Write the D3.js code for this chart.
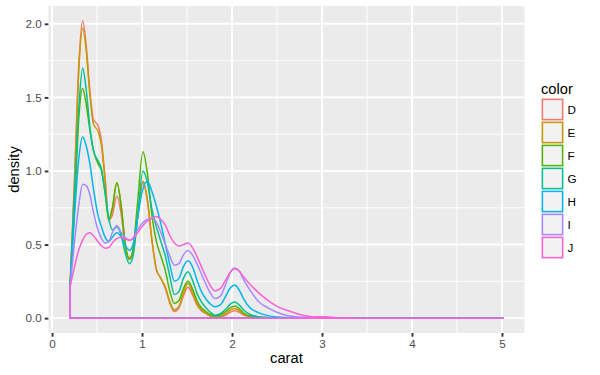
<!DOCTYPE html>
<html>
<head>
<meta charset="utf-8">
<script src="https://cdn.jsdelivr.net/npm/d3@7"></script>
<style>
  body { margin: 0; background: #fff; }
  text { font-family: "Liberation Sans", Arial, Helvetica, sans-serif; }
</style>
</head>
<body>
<svg id="chart" width="600" height="375"></svg>
<script>
const carat = [0.2, 0.25, 0.3, 0.34, 0.38, 0.42, 0.46, 0.51, 0.55, 0.59,
  0.63, 0.67, 0.72, 0.77, 0.81, 0.86, 0.9, 0.95, 1.01, 1.06,
  1.11, 1.16, 1.21, 1.26, 1.31, 1.36, 1.41, 1.46, 1.51, 1.56,
  1.61, 1.66, 1.71, 1.76, 1.81, 1.87, 1.93, 1.98, 2.03, 2.08,
  2.13, 2.2, 2.3, 2.4, 2.5, 2.6, 2.7, 2.8, 2.9, 3.0,
  3.1, 3.2, 3.4, 3.7, 4.0, 4.5, 5.01];

const densD = [0.21, 0.95, 1.75, 2.02, 1.85, 1.55, 1.35, 1.31, 1.20, 0.95,
  0.67, 0.70, 0.83, 0.70, 0.50, 0.41, 0.45, 0.68, 0.92, 0.80,
  0.53, 0.33, 0.27, 0.20, 0.10, 0.045, 0.07, 0.15, 0.21, 0.16,
  0.09, 0.05, 0.03, 0.012, 0.005, 0.008, 0.02, 0.04, 0.05, 0.04,
  0.02, 0.008, 0.003, 0.001, 0, 0, 0, 0, 0, 0,
  0, 0, 0, 0, 0, 0, 0];
const densE = [0.21, 0.92, 1.72, 1.97, 1.82, 1.52, 1.32, 1.27, 1.17, 0.93,
  0.66, 0.74, 0.92, 0.76, 0.52, 0.40, 0.45, 0.68, 0.93, 0.80,
  0.53, 0.33, 0.27, 0.21, 0.11, 0.055, 0.08, 0.17, 0.235, 0.18,
  0.10, 0.055, 0.035, 0.015, 0.007, 0.01, 0.03, 0.055, 0.066, 0.05,
  0.025, 0.01, 0.004, 0.002, 0.001, 0, 0, 0, 0, 0,
  0, 0, 0, 0, 0, 0, 0];
const densF = [0.21, 0.75, 1.38, 1.56, 1.45, 1.28, 1.14, 1.05, 1.00, 0.85,
  0.67, 0.75, 0.92, 0.75, 0.52, 0.40, 0.47, 0.78, 1.13, 0.98,
  0.70, 0.52, 0.42, 0.32, 0.18, 0.10, 0.12, 0.20, 0.25, 0.20,
  0.12, 0.07, 0.045, 0.025, 0.015, 0.02, 0.045, 0.07, 0.082, 0.065,
  0.035, 0.015, 0.006, 0.003, 0.001, 0, 0, 0, 0, 0,
  0, 0, 0, 0, 0, 0, 0];
const densG = [0.21, 0.85, 1.45, 1.70, 1.55, 1.30, 1.14, 1.07, 1.01, 0.85,
  0.68, 0.60, 0.62, 0.56, 0.45, 0.37, 0.42, 0.68, 1.00, 0.92,
  0.74, 0.62, 0.52, 0.42, 0.28, 0.16, 0.18, 0.27, 0.315, 0.26,
  0.17, 0.11, 0.07, 0.04, 0.02, 0.03, 0.06, 0.095, 0.11, 0.09,
  0.055, 0.025, 0.01, 0.004, 0.002, 0.001, 0, 0, 0, 0,
  0, 0, 0, 0, 0, 0, 0];
const densH = [0.21, 0.70, 1.10, 1.23, 1.17, 1.05, 0.88, 0.70, 0.62, 0.55,
  0.52, 0.55, 0.58, 0.55, 0.50, 0.46, 0.50, 0.68, 0.88, 0.93,
  0.86, 0.76, 0.64, 0.50, 0.36, 0.25, 0.27, 0.35, 0.39, 0.35,
  0.26, 0.18, 0.13, 0.095, 0.077, 0.09, 0.15, 0.205, 0.225, 0.19,
  0.13, 0.07, 0.036, 0.017, 0.008, 0.004, 0.002, 0.001, 0, 0.002,
  0.001, 0, 0, 0, 0, 0, 0];
const densI = [0.21, 0.52, 0.78, 0.91, 0.90, 0.84, 0.72, 0.60, 0.54, 0.51,
  0.52, 0.58, 0.63, 0.58, 0.55, 0.53, 0.545, 0.60, 0.65, 0.67,
  0.68, 0.65, 0.58, 0.50, 0.42, 0.36, 0.37, 0.43, 0.46, 0.43,
  0.37, 0.30, 0.23, 0.17, 0.134, 0.15, 0.23, 0.31, 0.34, 0.32,
  0.26, 0.19, 0.11, 0.07, 0.04, 0.02, 0.01, 0.006, 0.005, 0.008,
  0.004, 0.001, 0, 0, 0, 0, 0];
const densJ = [0.21, 0.35, 0.47, 0.53, 0.57, 0.58, 0.56, 0.52, 0.49, 0.475,
  0.48, 0.51, 0.54, 0.55, 0.54, 0.53, 0.54, 0.58, 0.63, 0.66,
  0.68, 0.69, 0.67, 0.63, 0.56, 0.51, 0.49, 0.50, 0.51, 0.48,
  0.42, 0.35, 0.28, 0.22, 0.185, 0.20, 0.26, 0.31, 0.335, 0.32,
  0.28, 0.23, 0.17, 0.12, 0.08, 0.055, 0.035, 0.018, 0.008, 0.01,
  0.006, 0.002, 0, 0, 0, 0, 0];

const colorLevels = ["D", "E", "F", "G", "H", "I", "J"];
const colorValues = ["#F8766D", "#C49A00", "#53B400", "#00C094", "#00B6EB", "#A58AFF", "#FB61D7"];
const xTicks = [0, 1, 2, 3, 4, 5];
const yTicks = [0, 0.5, 1, 1.5, 2];

const seriesList = [densD, densE, densF, densG, densH, densI, densJ];
const series = colorLevels.map((lvl, i) => ({
  key: lvl,
  colour: colorValues[i],
  values: carat.map((c, j) => ({ x: c, y: seriesList[i][j] }))
}));

const panel = { left: 48.4, right: 524.5, top: 6, bottom: 333 };

// ggplot-ish 5% expansion of the data range
const xMin = d3.min(carat), xMax = d3.max(carat);
const xPad = (xMax - xMin) * 0.05;
const yMax = d3.max(seriesList, s => d3.max(s));
const yPad = yMax * 0.05;

const x = d3.scaleLinear().domain([xMin - xPad, xMax + xPad]).range([panel.left, panel.right]);
const y = d3.scaleLinear().domain([-yPad, yMax + yPad]).range([panel.bottom, panel.top]);

const svg = d3.select('#chart');
svg.append('rect').attr('width', 600).attr('height', 375).attr('fill', '#fff');

svg.append('rect')
  .attr('x', panel.left).attr('y', panel.top)
  .attr('width', panel.right - panel.left).attr('height', panel.bottom - panel.top)
  .attr('fill', '#EBEBEB');

// minor grid
const xMinor = [0.5, 1.5, 2.5, 3.5, 4.5];
const yMinor = [0.25, 0.75, 1.25, 1.75];
const grid = svg.append('g');
grid.selectAll('.vminor').data(xMinor).join('line')
  .attr('x1', d => x(d)).attr('x2', d => x(d))
  .attr('y1', panel.top).attr('y2', panel.bottom)
  .attr('stroke', '#fff').attr('stroke-width', 0.95);
grid.selectAll('.hminor').data(yMinor).join('line')
  .attr('y1', d => y(d)).attr('y2', d => y(d))
  .attr('x1', panel.left).attr('x2', panel.right)
  .attr('stroke', '#fff').attr('stroke-width', 0.95);
// major grid
grid.selectAll('.vmajor').data(xTicks).join('line')
  .attr('x1', d => x(d)).attr('x2', d => x(d))
  .attr('y1', panel.top).attr('y2', panel.bottom)
  .attr('stroke', '#fff').attr('stroke-width', 1.9);
grid.selectAll('.hmajor').data(yTicks).join('line')
  .attr('y1', d => y(d)).attr('y2', d => y(d))
  .attr('x1', panel.left).attr('x2', panel.right)
  .attr('stroke', '#fff').attr('stroke-width', 1.9);

// density outlines (area drawn without fill, so the baseline shows too)
const area = d3.area()
  .x(d => x(d.x))
  .y0(y(0))
  .y1(d => y(d.y))
  .curve(d3.curveMonotoneX);

svg.append('g').selectAll('path').data(series)
  .join('path')
  .attr('d', d => area(d.values))
  .attr('fill', 'none')
  .attr('stroke', d => d.colour)
  .attr('stroke-width', 1.5)
  .attr('stroke-linejoin', 'round');

// axes
const xAxis = svg.append('g').attr('transform', 'translate(0,' + panel.bottom + ')')
  .call(d3.axisBottom(x).tickValues(xTicks).tickFormat(d3.format('d')).tickSize(3.7).tickPadding(3));
const yAxis = svg.append('g').attr('transform', 'translate(' + panel.left + ',0)')
  .call(d3.axisLeft(y).tickValues(yTicks).tickFormat(d3.format('.1f')).tickSize(3.7).tickPadding(3));

[xAxis, yAxis].forEach(ax => {
  ax.select('.domain').remove();
  ax.selectAll('line').attr('stroke', '#333').attr('stroke-width', 1.9);
  ax.selectAll('text').attr('fill', '#4D4D4D').style('font-size', '11.7px')
    .style('font-family', '"Liberation Sans", Arial, sans-serif');
});

svg.append('text')
  .attr('x', (panel.left + panel.right) / 2).attr('y', 363)
  .attr('text-anchor', 'middle').style('font-size', '14.7px')
  .text('carat');

svg.append('text')
  .attr('transform', 'translate(19,' + ((panel.top + panel.bottom) / 2) + ') rotate(-90)')
  .attr('text-anchor', 'middle').style('font-size', '14.7px')
  .text('density');

// legend
const legend = svg.append('g').attr('transform', 'translate(541,0)');
legend.append('text').attr('x', 0).attr('y', 94).style('font-size', '14.7px').text('color');

const keySize = 23;
const keys = legend.selectAll('g.key').data(series).join('g')
  .attr('class', 'key')
  .attr('transform', (d, i) => 'translate(0,' + (98 + i * keySize) + ')');
keys.append('rect')
  .attr('width', keySize).attr('height', keySize)
  .attr('fill', '#F2F2F2');
keys.append('rect')
  .attr('x', 1.4).attr('y', 1.4)
  .attr('width', keySize - 2.8).attr('height', keySize - 2.8)
  .attr('fill', 'none')
  .attr('stroke', d => d.colour)
  .attr('stroke-width', 1.5);
keys.append('text')
  .attr('x', keySize + 3.5).attr('y', keySize / 2)
  .attr('dy', '0.36em')
  .style('font-size', '11.7px')
  .text(d => d.key);
</script>
</body>
</html>
